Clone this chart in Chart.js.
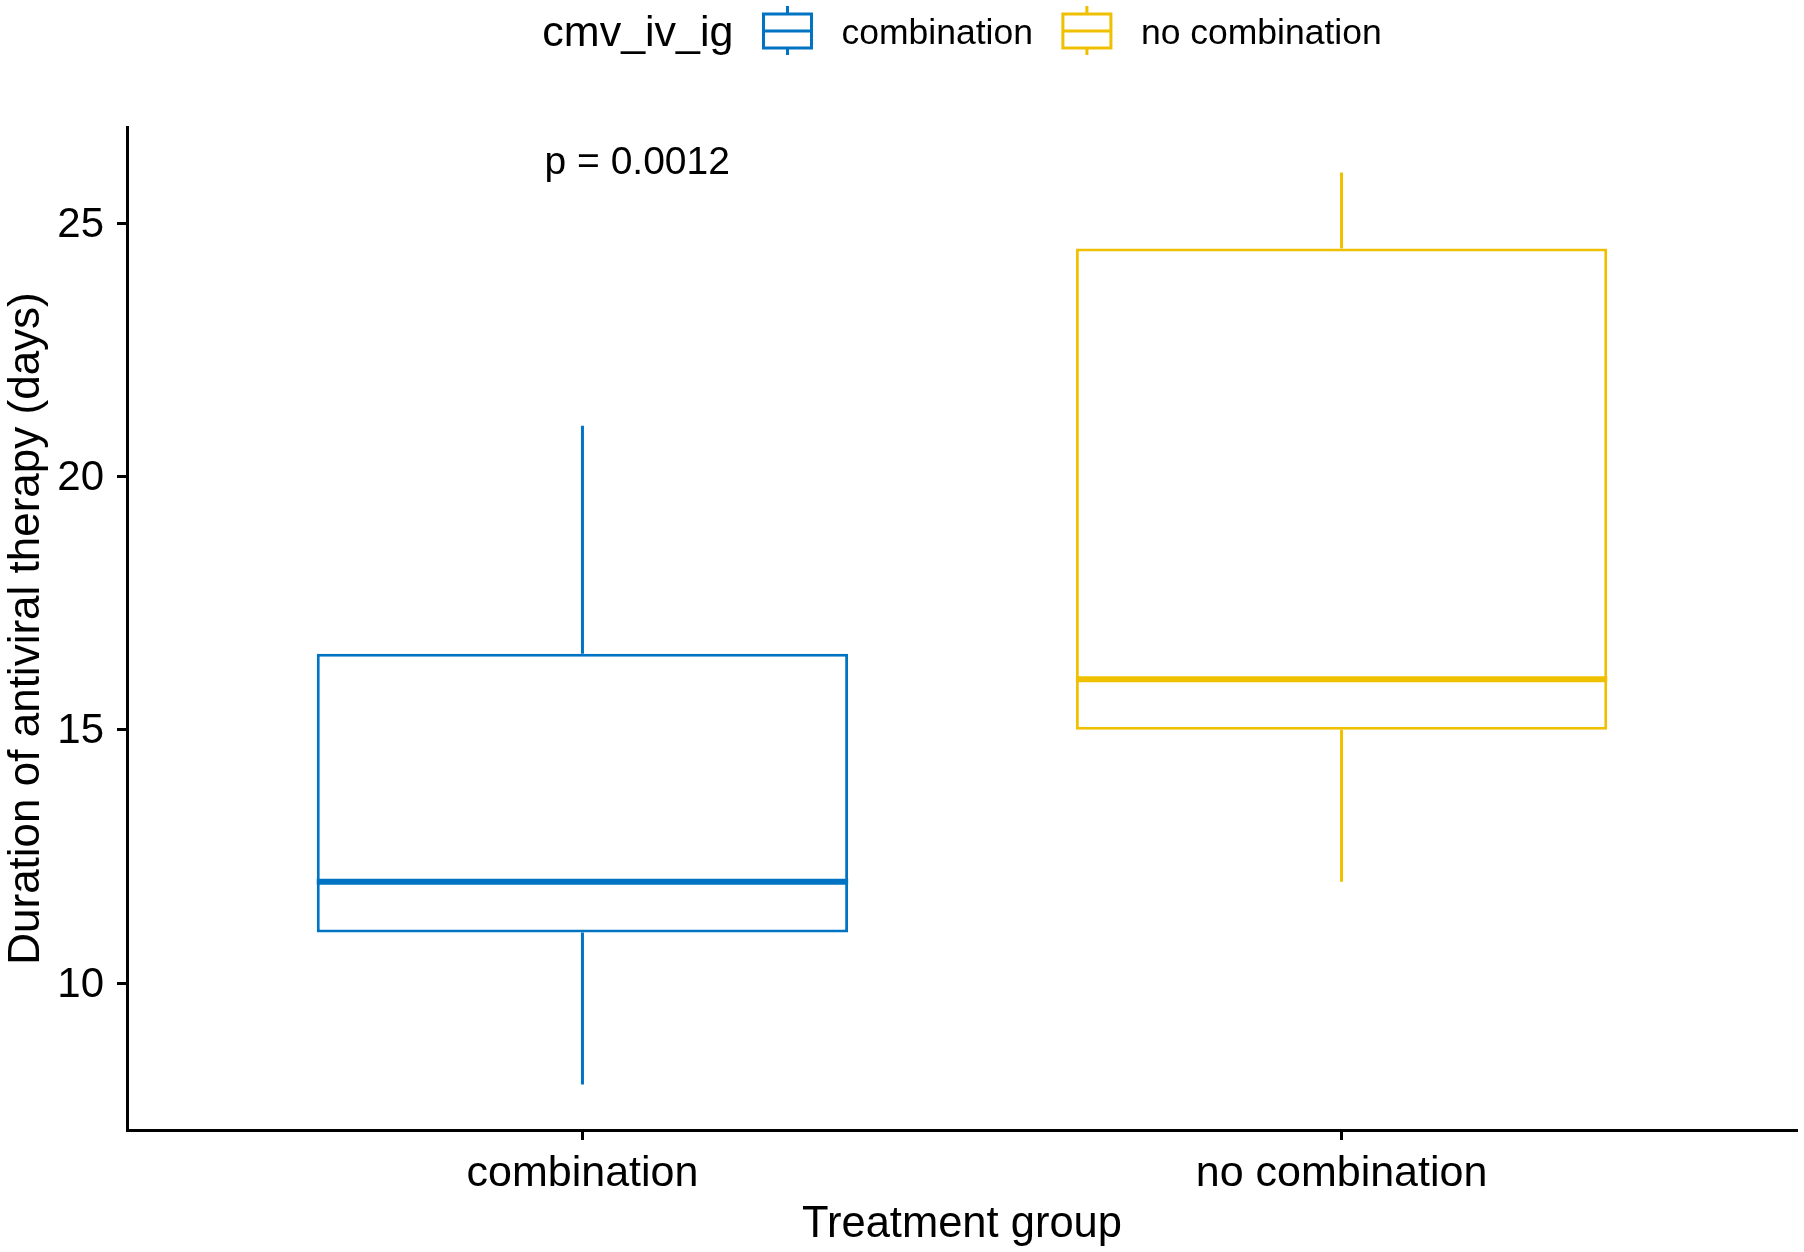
<!DOCTYPE html>
<html>
<head>
<meta charset="utf-8">
<script src="https://cdn.jsdelivr.net/npm/chart.js@4.4.1/dist/chart.umd.min.js"></script>
<style>
    body { margin: 0; background: #fff; }
    #wrap { width: 1804px; height: 1252px; }
</style>
</head>
<body>
<div id="wrap"><canvas id="boxChart" width="1804" height="1252"></canvas></div>
<script>
// values
const groups = ["combination", "no combination"];
const whiskerLow = [8, 12];
const q1 = [11, 15];
const median = [12, 16];
const q3 = [16.5, 24.5];
const whiskerHigh = [21, 26];
const yTicks = [10, 15, 20, 25];
const legendTitle = "cmv_iv_ig";
const pText = "p = 0.0012";

const colors = ["#0073C2", "#EFC000"];
const FONT = "'Liberation Sans', Arial, sans-serif";
const LW = 3;

// ggplot style expansion of the y range (5% each side)
const yLo = Math.min(...whiskerLow), yHi = Math.max(...whiskerHigh);
const yPad = (yHi - yLo) * 0.05;

const datasets = groups.map((g, i) => ({
    label: g,
    data: [{ x: i + 1, y: [q1[i], q3[i]] }],
    backgroundColor: "#ffffff",
    borderColor: colors[i],
    borderWidth: LW,
    borderSkipped: false,
    grouped: false,
    categoryPercentage: 1,
    barPercentage: 0.7
}));

// whiskers + median lines, drawn through the scales
const boxExtras = {
    id: "boxExtras",
    afterDatasetsDraw(chart) {
        const { ctx, scales: { x, y } } = chart;
        ctx.save();
        chart.data.datasets.forEach((ds, i) => {
            const bar = chart.getDatasetMeta(i).data[0];
            const cx = x.getPixelForValue(i + 1);
            ctx.strokeStyle = ds.borderColor;
            ctx.lineWidth = LW;
            ctx.beginPath();
            ctx.moveTo(cx, y.getPixelForValue(whiskerHigh[i]));
            ctx.lineTo(cx, y.getPixelForValue(q3[i]));
            ctx.moveTo(cx, y.getPixelForValue(q1[i]));
            ctx.lineTo(cx, y.getPixelForValue(whiskerLow[i]));
            ctx.stroke();

            const half = bar.width / 2;
            ctx.lineWidth = LW * 2;
            ctx.beginPath();
            ctx.moveTo(cx - half, y.getPixelForValue(median[i]));
            ctx.lineTo(cx + half, y.getPixelForValue(median[i]));
            ctx.stroke();
        });

        // p value annotation
        ctx.fillStyle = "#000";
        ctx.font = "39px " + FONT;
        ctx.textAlign = "left";
        ctx.textBaseline = "middle";
        ctx.fillText(pText, x.getPixelForValue(0.95), y.getPixelForValue(26.18));
        ctx.restore();
    }
};

// legend in one row: title, then box keys
const rowLegend = {
    id: "rowLegend",
    afterDraw(chart) {
        const { ctx, chartArea } = chart;
        const cy = 34;
        ctx.save();
        ctx.textBaseline = "middle";
        ctx.textAlign = "left";
        ctx.font = "43px " + FONT;
        const titleW = ctx.measureText(legendTitle).width;
        ctx.font = "35.5px " + FONT;
        const labW = chart.data.datasets.map(ds => ctx.measureText(ds.label).width);
        const iconW = 48, gap = 30;
        const total = titleW + gap + labW.reduce((s, w) => s + iconW + gap + w + gap, 0) - gap;
        let xPos = (chartArea.left + chartArea.right) / 2 - total / 2;

        ctx.fillStyle = "#000";
        ctx.font = "43px " + FONT;
        ctx.fillText(legendTitle, xPos, cy);
        xPos += titleW + gap;

        chart.data.datasets.forEach((ds, i) => {
            ctx.strokeStyle = ds.borderColor;
            ctx.lineWidth = LW;
            ctx.strokeRect(xPos, 14, iconW, 34);
            ctx.beginPath();
            ctx.moveTo(xPos, 31);
            ctx.lineTo(xPos + iconW, 31);
            ctx.moveTo(xPos + iconW / 2, 6);
            ctx.lineTo(xPos + iconW / 2, 14);
            ctx.moveTo(xPos + iconW / 2, 48);
            ctx.lineTo(xPos + iconW / 2, 55);
            ctx.stroke();
            xPos += iconW + gap;
            ctx.font = "35.5px " + FONT;
            ctx.fillStyle = "#000";
            ctx.fillText(ds.label, xPos, cy);
            xPos += labW[i] + gap;
        });
        ctx.restore();
    }
};

new Chart(document.getElementById("boxChart").getContext("2d"), {
    type: "bar",
    data: { datasets },
    options: {
        responsive: false,
        animation: false,
        layout: { padding: { left: 0, top: 127, right: 7, bottom: 0 } },
        plugins: {
            legend: { display: false },
            tooltip: { enabled: false }
        },
        scales: {
            x: {
                type: "linear",
                min: 0.4,
                max: 2.6,
                offset: false,
                afterBuildTicks: s => { s.ticks = groups.map((g, i) => ({ value: i + 1 })); },
                afterFit: s => { s.height = 122; },
                ticks: {
                    callback: v => groups[v - 1],
                    color: "#000",
                    padding: 8,
                    maxRotation: 0,
                    font: { family: FONT, size: 43 }
                },
                grid: {
                    offset: false,
                    drawOnChartArea: false,
                    drawTicks: true,
                    tickLength: 10,
                    tickWidth: LW,
                    tickColor: "#000"
                },
                border: { display: true, color: "#000", width: LW },
                title: {
                    display: true,
                    text: "Treatment group",
                    color: "#000",
                    padding: { top: 0, bottom: 1 },
                    font: { family: FONT, size: 43.5 }
                }
            },
            y: {
                type: "linear",
                min: yLo - yPad,
                max: yHi + yPad,
                afterBuildTicks: s => { s.ticks = yTicks.map(v => ({ value: v })); },
                afterFit: s => { s.width = 127; },
                ticks: {
                    color: "#000",
                    padding: 13,
                    labelOffset: 2,
                    font: { family: FONT, size: 42 }
                },
                grid: {
                    drawOnChartArea: false,
                    drawTicks: true,
                    tickLength: 10,
                    tickWidth: LW,
                    tickColor: "#000"
                },
                border: { display: true, color: "#000", width: LW },
                title: {
                    display: true,
                    text: "Duration of antiviral therapy (days)",
                    color: "#000",
                    padding: { top: 0, bottom: 0 },
                    font: { family: FONT, size: 44 }
                }
            }
        }
    },
    plugins: [boxExtras, rowLegend]
});
</script>
</body>
</html>
